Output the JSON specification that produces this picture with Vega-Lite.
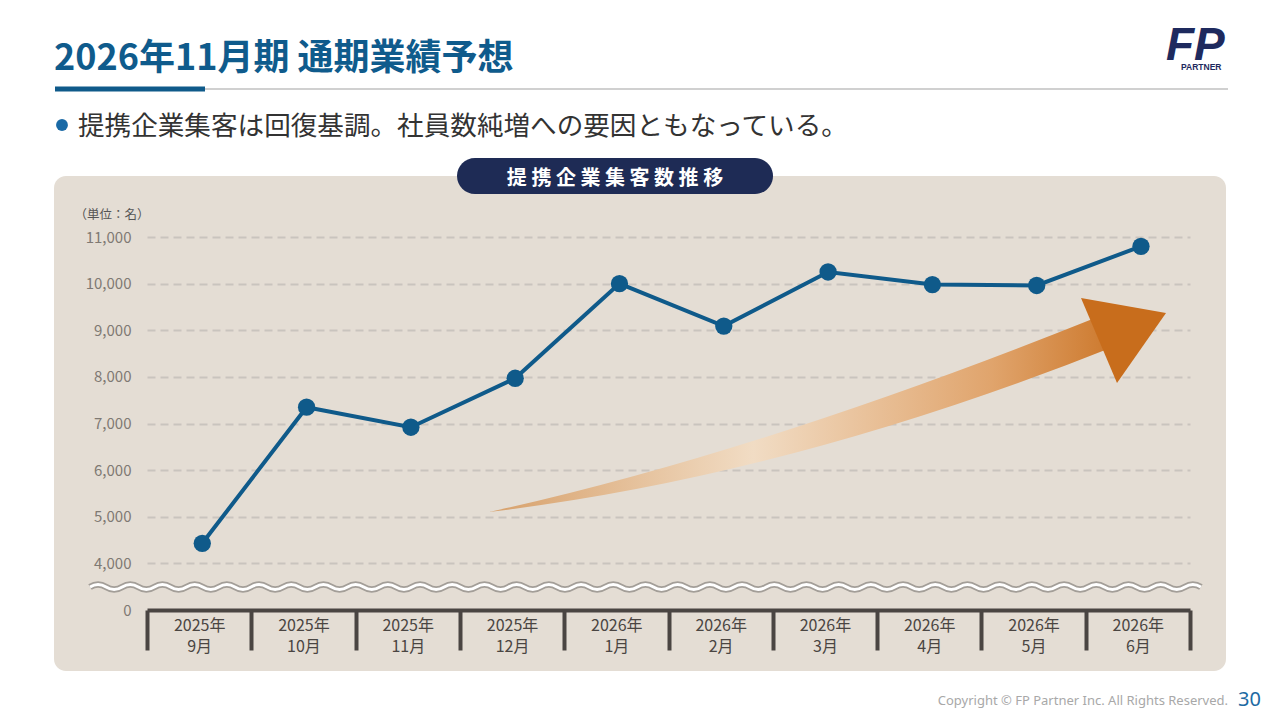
{
  "$schema": "https://vega.github.io/schema/vega-lite/v6.json",
  "width": 1172,
  "height": 495,
  "autosize": {"type": "none"},
  "padding": {"left": 54, "top": 176, "right": 54, "bottom": 49},
  "background": "#ffffff",
  "view": {"fill": "#e4ddd4", "stroke": null, "cornerRadius": 12},
  "config": {"font": "Noto Sans CJK JP"},
  "data": {
    "values": [
      {"month": "2025年9月", "count": 4430},
      {"month": "2025年10月", "count": 7350},
      {"month": "2025年11月", "count": 6920},
      {"month": "2025年12月", "count": 7970},
      {"month": "2026年1月", "count": 10000},
      {"month": "2026年2月", "count": 9090},
      {"month": "2026年3月", "count": 10250},
      {"month": "2026年4月", "count": 9980},
      {"month": "2026年5月", "count": 9960},
      {"month": "2026年6月", "count": 10800}
    ]
  },
  "layer": [
    {
      "data": {"values": [{}]},
      "mark": {"type": "rule", "color": "#d0d0d0", "strokeWidth": 2},
      "encoding": {"x": {"value": 1}, "x2": {"value": 1174}, "y": {"value": -87}}
    },
    {
      "data": {"values": [{}]},
      "mark": {"type": "rule", "color": "#0f5a8a", "strokeWidth": 5},
      "encoding": {"x": {"value": 1}, "x2": {"value": 151}, "y": {"value": -87}}
    },
    {
      "data": {"values": [{}]},
      "mark": {"type": "text", "text": "2026年11月期 通期業績予想", "font": "Noto Sans CJK JP", "fontSize": 36, "fontWeight": "bold", "color": "#0f5b8c", "align": "left", "baseline": "alphabetic"},
      "encoding": {"x": {"value": 0}, "y": {"value": -106}}
    },
    {
      "data": {"values": [{}]},
      "mark": {"type": "point", "shape": "circle", "filled": true, "size": 140, "color": "#1a6aa6", "opacity": 1},
      "encoding": {"x": {"value": 8}, "y": {"value": -51}}
    },
    {
      "data": {"values": [{}]},
      "mark": {"type": "text", "text": "提携企業集客は回復基調。社員数純増への要因ともなっている。", "font": "Noto Sans CJK JP", "fontSize": 26.6, "color": "#333333", "align": "left", "baseline": "alphabetic"},
      "encoding": {"x": {"value": 24}, "y": {"value": -41}}
    },
    {
      "data": {"values": [{}]},
      "mark": {"type": "text", "text": "FP", "font": "Liberation Sans", "fontSize": 46, "fontWeight": "bold", "fontStyle": "italic", "color": "#1e2a5e", "align": "left", "baseline": "alphabetic"},
      "encoding": {"x": {"value": 1112}, "y": {"value": -116}}
    },
    {
      "data": {"values": [{}]},
      "mark": {"type": "text", "text": "PARTNER", "font": "Liberation Sans", "fontSize": 8.5, "fontWeight": "bold", "color": "#1e2a5e", "align": "left", "baseline": "alphabetic"},
      "encoding": {"x": {"value": 1127}, "y": {"value": -106}}
    },
    {
      "data": {"values": [{}]},
      "mark": {"type": "point", "shape": "M421,-18 L701,-18 A18,18 0 0 1 701,18 L421,18 A18,18 0 0 1 421,-18 Z", "size": 4, "filled": true, "fill": "#1e2b55", "stroke": null, "opacity": 1},
      "encoding": {"x": {"value": 0}, "y": {"value": 0}}
    },
    {
      "data": {"values": [{}]},
      "mark": {"type": "text", "text": "提 携 企 業 集 客 数 推 移", "font": "Noto Sans CJK JP", "fontSize": 20, "fontWeight": "bold", "color": "#ffffff", "align": "center", "baseline": "alphabetic"},
      "encoding": {"x": {"value": 561}, "y": {"value": 8.5}}
    },
    {
      "data": {"values": [{}]},
      "mark": {
        "type": "point",
        "shape": "M435,336 Q704,277 1041,142 L1064,169 Q737,300 435,336 Z",
        "size": 4, "filled": true, "stroke": null, "opacity": 1,
        "fill": {
          "gradient": "linear", "x1": 0, "y1": 0.5, "x2": 1, "y2": 0.5,
          "stops": [
            {"offset": 0, "color": "#d7a06a"},
            {"offset": 0.42, "color": "#f1dcc4"},
            {"offset": 0.8, "color": "#e0a46c"},
            {"offset": 1, "color": "#cc772a"}
          ]
        }
      },
      "encoding": {"x": {"value": 0}, "y": {"value": 0}}
    },
    {
      "data": {"values": [{}]},
      "mark": {"type": "point", "shape": "M1027,122 L1112,137 L1063,207 Z", "size": 4, "filled": true, "fill": "#c86d1c", "stroke": null, "opacity": 1},
      "encoding": {"x": {"value": 0}, "y": {"value": 0}}
    },
    {
      "data": {"values": [{}]},
      "mark": {"type": "point", "shape": "M36,0 q8.05,-5 16.1,0 t16.1,0 t16.1,0 t16.1,0 t16.1,0 t16.1,0 t16.1,0 t16.1,0 t16.1,0 t16.1,0 t16.1,0 t16.1,0 t16.1,0 t16.1,0 t16.1,0 t16.1,0 t16.1,0 t16.1,0 t16.1,0 t16.1,0 t16.1,0 t16.1,0 t16.1,0 t16.1,0 t16.1,0 t16.1,0 t16.1,0 t16.1,0 t16.1,0 t16.1,0 t16.1,0 t16.1,0 t16.1,0 t16.1,0 t16.1,0 t16.1,0 t16.1,0 t16.1,0 t16.1,0 t16.1,0 t16.1,0 t16.1,0 t16.1,0 t16.1,0 t16.1,0 t16.1,0 t16.1,0 t16.1,0 t16.1,0 t16.1,0 t16.1,0 t16.1,0 t16.1,0 t16.1,0 t16.1,0 t16.1,0 t16.1,0 t16.1,0 t16.1,0 t16.1,0 t16.1,0 t16.1,0 t16.1,0 t16.1,0 t16.1,0 t16.1,0 t16.1,0 t16.1,0 t16.1,0", "size": 4, "filled": false, "stroke": "#a39e98", "strokeWidth": 6.5, "opacity": 1},
      "encoding": {"x": {"value": 0}, "y": {"value": 411}}
    },
    {
      "data": {"values": [{}]},
      "mark": {"type": "point", "shape": "M36,0 q8.05,-5 16.1,0 t16.1,0 t16.1,0 t16.1,0 t16.1,0 t16.1,0 t16.1,0 t16.1,0 t16.1,0 t16.1,0 t16.1,0 t16.1,0 t16.1,0 t16.1,0 t16.1,0 t16.1,0 t16.1,0 t16.1,0 t16.1,0 t16.1,0 t16.1,0 t16.1,0 t16.1,0 t16.1,0 t16.1,0 t16.1,0 t16.1,0 t16.1,0 t16.1,0 t16.1,0 t16.1,0 t16.1,0 t16.1,0 t16.1,0 t16.1,0 t16.1,0 t16.1,0 t16.1,0 t16.1,0 t16.1,0 t16.1,0 t16.1,0 t16.1,0 t16.1,0 t16.1,0 t16.1,0 t16.1,0 t16.1,0 t16.1,0 t16.1,0 t16.1,0 t16.1,0 t16.1,0 t16.1,0 t16.1,0 t16.1,0 t16.1,0 t16.1,0 t16.1,0 t16.1,0 t16.1,0 t16.1,0 t16.1,0 t16.1,0 t16.1,0 t16.1,0 t16.1,0 t16.1,0 t16.1,0", "size": 4, "filled": false, "stroke": "#ffffff", "strokeWidth": 3, "opacity": 1},
      "encoding": {"x": {"value": 0}, "y": {"value": 411}}
    },
    {
      "mark": {"type": "line", "color": "#0f5a8a", "strokeWidth": 4},
      "encoding": {
        "x": {
          "field": "month", "type": "ordinal", "sort": null, "bandPosition": 0.53,
          "scale": {"type": "band", "range": [93, 1136], "paddingInner": 0, "paddingOuter": 0},
          "axis": {
            "title": null, "orient": "bottom", "offset": -61,
            "domain": true, "domainColor": "#4a4542", "domainWidth": 4,
            "ticks": true, "tickBand": "extent", "tickSize": 40, "tickWidth": 4, "tickColor": "#4a4542",
            "labelExpr": "[slice(datum.label,0,5), slice(datum.label,5)]",
            "labelFont": "Noto Sans CJK JP", "labelFontSize": 16, "labelColor": "#4a4542",
            "labelLineHeight": 21, "labelPadding": -33, "labelBaseline": "top", "labelAngle": 0,
            "grid": false
          }
        },
        "y": {
          "field": "count", "type": "quantitative",
          "scale": {"domain": [3000, 11000], "range": [434, 61], "zero": false, "nice": false},
          "axis": {
            "title": "（単位：名）", "titleAngle": 0, "titleX": -57, "titleY": 38,
            "titleAlign": "left", "titleBaseline": "middle", "titleFontSize": 12.5,
            "titleFontWeight": "normal", "titleColor": "#555555", "titleFont": "Noto Sans CJK JP",
            "offset": -77, "domain": false, "ticks": false, "labelPadding": 0,
            "values": [3000, 4000, 5000, 6000, 7000, 8000, 9000, 10000, 11000],
            "labelExpr": "datum.value === 3000 ? '0' : format(datum.value, ',')",
            "labelFont": "Noto Sans CJK JP", "labelFontSize": 15, "labelColor": "#7f7973",
            "grid": true, "gridColor": "#c9c4be", "gridDash": [8, 5], "gridWidth": 2,
            "gridOpacity": {"condition": {"test": "datum.value === 3000", "value": 0}, "value": 1}
          }
        }
      }
    },
    {
      "mark": {"type": "point", "filled": true, "size": 300, "color": "#0f5a8a", "opacity": 1},
      "encoding": {
        "x": {"field": "month", "type": "ordinal", "sort": null, "bandPosition": 0.53},
        "y": {"field": "count", "type": "quantitative"}
      }
    },
    {
      "data": {"values": [{}]},
      "mark": {"type": "text", "text": "Copyright © FP Partner Inc. All Rights Reserved.", "font": "Noto Sans", "fontSize": 13, "color": "#a8a8a8", "align": "right", "baseline": "alphabetic"},
      "encoding": {"x": {"value": 1174}, "y": {"value": 529}}
    },
    {
      "data": {"values": [{}]},
      "mark": {"type": "text", "text": "30", "font": "Noto Sans", "fontSize": 20, "color": "#1d6aa3", "align": "left", "baseline": "alphabetic"},
      "encoding": {"x": {"value": 1184}, "y": {"value": 530}}
    }
  ]
}
